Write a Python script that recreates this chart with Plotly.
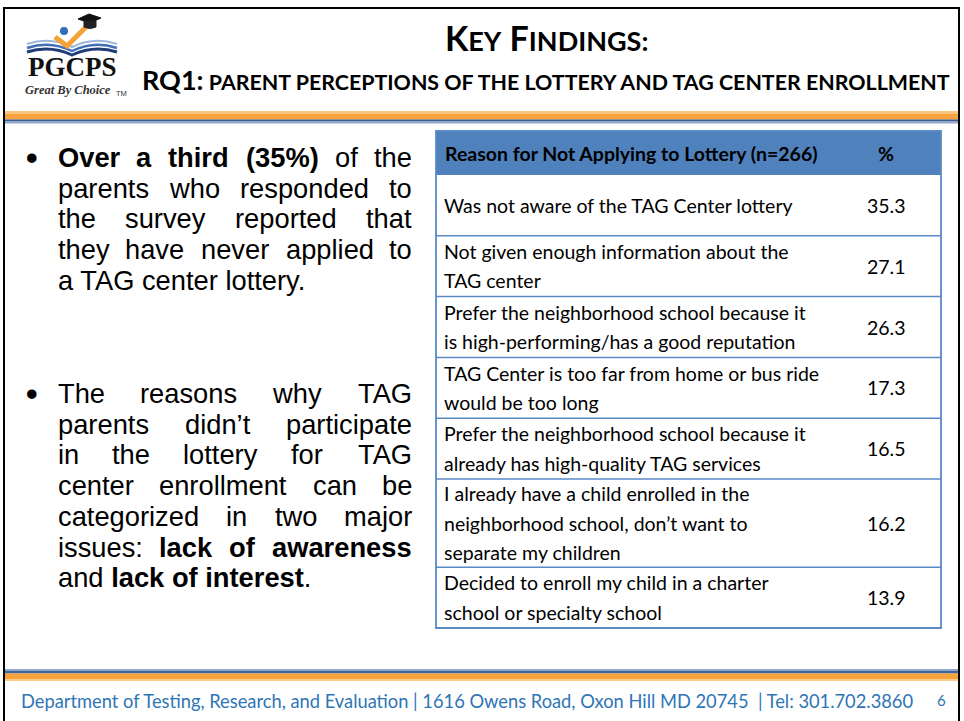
import plotly.graph_objects as go

W, H = 964, 721

# ------------------------------------------------------------------ data
title_main = "<b>K<span style='font-size:27px'>EY</span> F<span style='font-size:27px'>INDINGS:</span></b>"
title_sub = "<b>RQ1:<span style='font-size:21.4px'> PARENT PERCEPTIONS OF THE LOTTERY AND TAG CENTER ENROLLMENT</span></b>"

header_reason = "Reason for Not Applying to Lottery (n=266)"
header_pct = "%"

reasons = [
    ["Was not aware of the TAG Center lottery"],
    ["Not given enough information about the", "TAG center"],
    ["Prefer the neighborhood school because it", "is high-performing/has a good reputation"],
    ["TAG Center is too far from home or bus ride", "would be too long"],
    ["Prefer the neighborhood school because it", "already has high-quality TAG services"],
    ["I already have a child enrolled in the", "neighborhood school, don\u2019t want to", "separate my children"],
    ["Decided to enroll my child in a charter", "school or specialty school"],
]
pct = [35.3, 27.1, 26.3, 17.3, 16.5, 16.2, 13.9]

bullet1 = [
    "<b>Over</b> <b>a</b> <b>third</b> <b>(35%)</b> of the",
    "parents who responded to",
    "the survey reported that",
    "they have never applied to",
    "a TAG center lottery.",
]
bullet2 = [
    "The reasons why TAG",
    "parents didn\u2019t participate",
    "in the lottery for TAG",
    "center enrollment can be",
    "categorized in two major",
    "issues: <b>lack</b> <b>of</b> <b>awareness</b>",
    "and <b>lack</b> <b>of</b> <b>interest</b>.",
]

footer_text = ("Department of Testing, Research, and Evaluation | 1616 Owens Road, "
               "Oxon Hill MD 20745 \u00a0| Tel: 301.702.3860")
page_no = "6"

# ------------------------------------------------------------------ style
FONT = "Lato"
BUL_FONT = "Liberation Sans"
SERIF = "Liberation Serif"
TBL_BLUE = "#4F81BD"
TBL_LINE = "#5A89C6"
FOOT_BLUE = "#2E75B6"
TBL_SIZE = 19.5
BUL_SIZE = 27.3

shapes = []
anns = []


def rect(x0, y0, x1, y1, fill=None, line=None, lw=0):
    shapes.append(dict(type="rect", xref="x", yref="y", x0=x0, y0=y0, x1=x1, y1=y1,
                       fillcolor=fill if fill else "rgba(0,0,0,0)",
                       line=dict(color=line if line else "rgba(0,0,0,0)", width=lw),
                       layer="below"))


def hline(x0, x1, y, color, lw):
    shapes.append(dict(type="line", xref="x", yref="y", x0=x0, x1=x1, y0=y, y1=y,
                       line=dict(color=color, width=lw)))


def text(x, y, s, size, color="#000000", xanchor="left", family=FONT, yanchor="middle"):
    anns.append(dict(x=x, y=y, xref="x", yref="y", text=s, showarrow=False,
                     xanchor=xanchor, yanchor=yanchor, borderpad=0,
                     font=dict(family=family, size=size, color=color)))


# ------------------------------------------------------------------ header band
rect(4, 8, 959, 740, fill="#FFFFFF", line="#000000", lw=2)
rect(5, 111, 958, 113.5, fill="#FBC57E")
rect(5, 113.5, 958, 119.5, fill="#F8A33E")
rect(5, 119.5, 958, 121.5, fill="#3B5B8C")
rect(5, 121.5, 958, 123.5, fill="#8FA7CC")

# footer band
rect(5, 669, 958, 671, fill="#8FA7C8")
rect(5, 671, 958, 673.5, fill="#3E6496")
rect(5, 673.5, 958, 679, fill="#F7A33C")
rect(5, 679, 958, 681, fill="#FCCB88")

# ------------------------------------------------------------------ logo
shapes.append(dict(type="path", xref="x", yref="y",
                   path="M 27,44 Q 50,36 72,47 Q 94,36 117,44",
                   line=dict(color="#9DB6DA", width=2)))
shapes.append(dict(type="path", xref="x", yref="y",
                   path="M 27,48 Q 50,40 72,51 Q 94,40 117,48",
                   line=dict(color="#3F6FB5", width=2.5)))
shapes.append(dict(type="path", xref="x", yref="y",
                   path="M 27,52 Q 50,45 72,55 Q 94,45 117,52",
                   line=dict(color="#1F3D7A", width=3)))
shapes.append(dict(type="path", xref="x", yref="y",
                   path="M 55,37 L 67,46 L 88,25",
                   line=dict(color="#F4A233", width=5)))
shapes.append(dict(type="circle", xref="x", yref="y", x0=60, y0=27, x1=68, y1=35,
                   fillcolor="#2F6DB5", line=dict(width=0)))
shapes.append(dict(type="path", xref="x", yref="y",
                   path="M 78,19 L 89,14 L 101,18 L 90,23 Z",
                   fillcolor="#111111", line=dict(color="#111111", width=1)))
shapes.append(dict(type="path", xref="x", yref="y",
                   path="M 84,21 L 84,27 Q 90,30 96,27 L 96,21 Z",
                   fillcolor="#222222", line=dict(color="#222222", width=1)))
text(72, 67, "<b>PGCPS</b>", 27, color="#111111", xanchor="center", family=SERIF)
text(68, 90, "<b><i>Great By Choice</i></b>", 12.5, color="#333333", xanchor="center", family=SERIF)
text(115, 93, "TM", 7.5, color="#333333", xanchor="left", family="Liberation Sans")

# ------------------------------------------------------------------ titles
text(546, 37, title_main, 34, xanchor="center")
text(141, 79, title_sub, 27, xanchor="left")

# ------------------------------------------------------------------ bullets (justified)
REG = dict(zip("abcdefghijklmnopqrstuvwxyz",
               [.556, .556, .5, .556, .556, .278, .556, .556, .222, .222, .5, .222, .833,
                .556, .556, .556, .556, .333, .5, .278, .556, .5, .722, .5, .5, .5]))
REG.update(dict(zip("ABCDEFGHIJKLMNOPQRSTUVWXYZ",
                    [.667, .667, .722, .722, .667, .611, .778, .722, .278, .5, .667, .556, .833,
                     .722, .778, .667, .778, .722, .667, .611, .722, .667, .944, .667, .667, .611])))
REG.update({"(": .333, ")": .333, "%": .889, ".": .278, ":": .278, ",": .278,
            "\u2019": .222, "-": .333, "/": .278, " ": .278})
for d in "0123456789":
    REG[d] = .556
BLD = dict(REG)
BLD.update(dict(zip("abcdefghijklmnopqrstuvwxyz",
                    [.556, .611, .556, .611, .556, .333, .611, .611, .278, .278, .556, .278, .889,
                     .611, .611, .611, .611, .389, .556, .333, .611, .556, .778, .556, .556, .5])))
BLD.update({":": .333, "O": .778})


def word_w(word, size):
    bold = "<b>" in word
    plain = word.replace("<b>", "").replace("</b>", "")
    tbl = BLD if bold else REG
    return sum(tbl.get(c, .556) for c in plain) * size


def bullet_block(lines, y0, x_left=57, x_right=413, size=BUL_SIZE, step=30.7):
    text(25, y0 - 0.5, "<b>\u2022</b>", 33, family=BUL_FONT)
    for i, ln in enumerate(lines):
        y = y0 + i * step
        words = ln.split(" ")
        if i == len(lines) - 1 or len(words) < 2:
            text(x_left, y, ln, size, family=BUL_FONT)
            continue
        ws = [word_w(w, size) for w in words]
        gap = (x_right - x_left - sum(ws)) / (len(words) - 1)
        xpos = x_left
        for j, (w, ww) in enumerate(zip(words, ws)):
            if j == 0:
                text(x_left, y, w, size, xanchor="left", family=BUL_FONT)
            elif j == len(words) - 1:
                text(x_right, y, w, size, xanchor="right", family=BUL_FONT)
            else:
                text(xpos + ww / 2, y, w, size, xanchor="center", family=BUL_FONT)
            xpos += ww + gap


bullet_block(bullet1, 157.5)
bullet_block(bullet2, 393.5)

# ------------------------------------------------------------------ table
TX0, TX1 = 436, 941
PCT_X = 886
HEAD_TOP, HEAD_BOT = 131, 175
LINE_STEP = 29.5


def row_h(n):
    return 6 + 27.4 * max(n, 2)


rect(TX0, HEAD_TOP, TX1, HEAD_BOT, fill=TBL_BLUE)
text(444, (HEAD_TOP + HEAD_BOT) / 2, "<b>" + header_reason + "</b>", TBL_SIZE)
text(PCT_X, (HEAD_TOP + HEAD_BOT) / 2, "<b>" + header_pct + "</b>", TBL_SIZE, xanchor="center")

y = HEAD_BOT
for lines, p in zip(reasons, pct):
    h = row_h(len(lines))
    cy = y + h / 2
    for k, ln in enumerate(lines):
        ly = cy + (k - (len(lines) - 1) / 2) * LINE_STEP
        text(443, ly, ln, TBL_SIZE)
    text(PCT_X, cy, f"{p:.1f}", TBL_SIZE, xanchor="center")
    y += h
    hline(TX0, TX1, y, TBL_LINE, 1.5)
TBL_BOT = y
shapes.append(dict(type="rect", xref="x", yref="y", x0=TX0, y0=HEAD_TOP, x1=TX1, y1=TBL_BOT,
                   line=dict(color=TBL_LINE, width=1.8), fillcolor="rgba(0,0,0,0)"))

# ------------------------------------------------------------------ footer
text(20, 701, footer_text, 18.3, color=FOOT_BLUE)
text(941, 700, page_no, 15, color=FOOT_BLUE, xanchor="center")

# ------------------------------------------------------------------ figure
fig = go.Figure()
fig.add_trace(go.Scatter(x=[0, W], y=[0, H], mode="markers",
                         marker=dict(opacity=0), hoverinfo="skip", showlegend=False))
fig.update_layout(
    width=W, height=H, margin=dict(l=0, r=0, t=0, b=0),
    paper_bgcolor="#FFFFFF", plot_bgcolor="#FFFFFF",
    xaxis=dict(range=[0, W], visible=False, fixedrange=True),
    yaxis=dict(range=[H, 0], visible=False, fixedrange=True),
    shapes=shapes, annotations=anns, showlegend=False,
)
fig.write_html("out.html", config={"displayModeBar": False},
               post_script="document.body.style.margin='0';document.body.style.overflow='hidden';")
